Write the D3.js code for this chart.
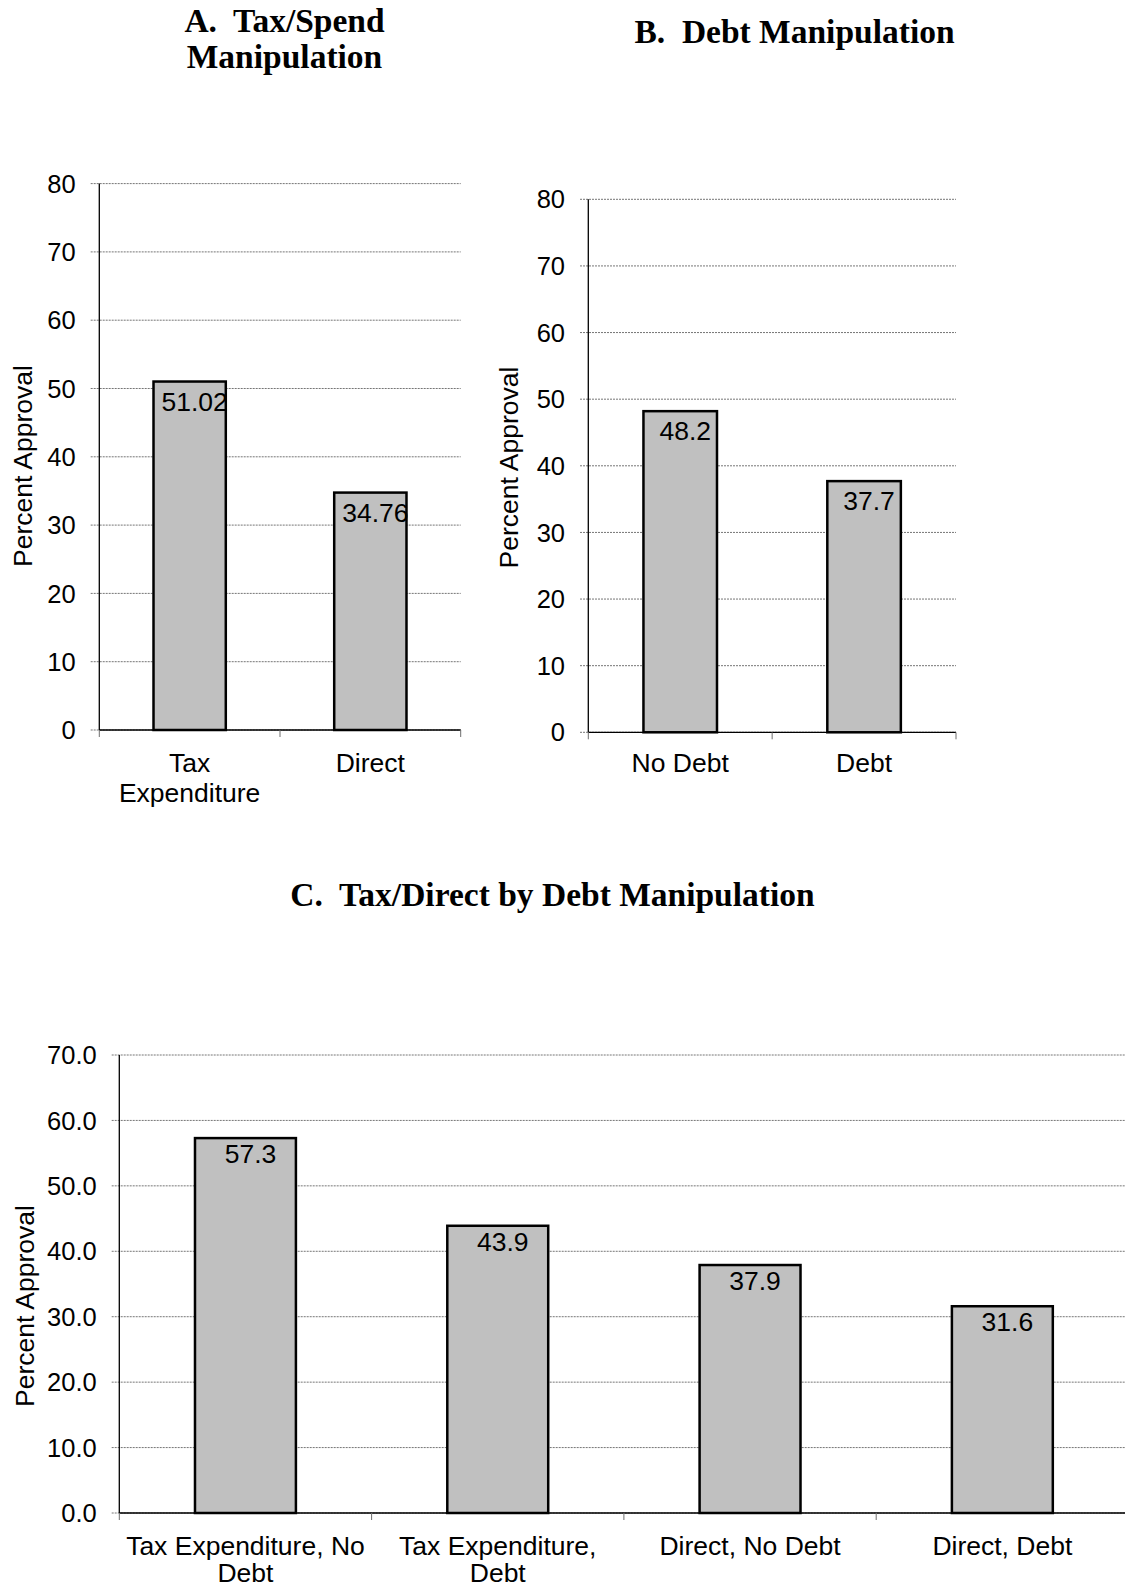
<!DOCTYPE html>
<html>
<head>
<meta charset="utf-8">
<script src="https://cdn.jsdelivr.net/npm/d3@7"></script>
<style>
  html, body { margin: 0; padding: 0; background: #fff; }
  svg { display: block; }
  text { font-family: "Liberation Sans", Arial, sans-serif; fill: #000; }
  .title { font-family: "Liberation Serif", "Times New Roman", serif; font-weight: bold; font-size: 33.5px; white-space: pre; }
</style>
</head>
<body>
<svg id="chart" width="1125" height="1589"></svg>
<script>
// ---- data ----
const taxSpendCategories = [["Tax", "Expenditure"], ["Direct"]];
const taxSpendValues = [51.02, 34.76];

const debtCategories = [["No Debt"], ["Debt"]];
const debtValues = [48.2, 37.7];

const comboCategories = [["Tax Expenditure, No", "Debt"], ["Tax Expenditure,", "Debt"], ["Direct, No Debt"], ["Direct, Debt"]];
const comboValues = [57.3, 43.9, 37.9, 31.6];

const ticksAB = [0, 10, 20, 30, 40, 50, 60, 70, 80];
const ticksC = [0, 10, 20, 30, 40, 50, 60, 70];

const titleA = ["A.  Tax/Spend", "Manipulation"];
const titleB = ["B.  Debt Manipulation"];
const titleC = ["C.  Tax/Direct by Debt Manipulation"];
const yTitle = "Percent Approval";

// ---- drawing ----
const svg = d3.select("#chart");
svg.append("rect").attr("width", 1125).attr("height", 1589).attr("fill", "#fff");

function drawTitle(lines, cx, baseline, lineGap) {
  const t = svg.append("text").attr("class", "title")
    .attr("text-anchor", "middle");
  lines.forEach((l, i) => {
    t.append("tspan").attr("x", cx).attr("y", baseline + i * lineGap).text(l);
  });
}

function drawPanel(p) {
  const n = p.values.length;
  const x = d3.scaleBand()
    .domain(d3.range(n))
    .range([p.x0, p.x1])
    .paddingInner(0.6)
    .paddingOuter(0.3);
  const y = d3.scaleLinear().domain([0, p.max]).range([p.y0, p.y1]);
  const g = svg.append("g");

  // horizontal gridlines (also form the left tick marks)
  g.selectAll("line.grid").data(p.ticks).join("line")
    .attr("class", "grid")
    .attr("x1", p.gridLeft).attr("x2", p.gridRight)
    .attr("y1", d => y(d)).attr("y2", d => y(d))
    .attr("stroke", "#767676").attr("stroke-width", 1)
    .attr("stroke-dasharray", "2,1");

  // y tick labels
  g.selectAll("text.ytick").data(p.ticks).join("text")
    .attr("class", "ytick")
    .attr("x", p.gridLeft - 15)
    .attr("y", d => y(d))
    .attr("dy", "0.36em")
    .attr("text-anchor", "end")
    .style("font-size", p.tickSize + "px")
    .text(p.tickFormat);

  // bars
  g.selectAll("rect.bar").data(p.values).join("rect")
    .attr("class", "bar")
    .attr("x", (d, i) => x(i))
    .attr("y", d => y(d))
    .attr("width", x.bandwidth())
    .attr("height", d => y(0) - y(d))
    .attr("fill", "#c0c0c0")
    .attr("stroke", "#000")
    .attr("stroke-width", 2.5);

  // value labels inside the top of each bar
  g.selectAll("text.val").data(p.values).join("text")
    .attr("class", "val")
    .attr("x", (d, i) => x(i) + x.bandwidth() / 2 + 5)
    .attr("y", d => y(d) + p.labelOffset)
    .attr("text-anchor", "middle")
    .style("font-size", p.fontSize + "px")
    .text(d => String(d));

  // axes
  g.append("line")
    .attr("x1", p.x0).attr("x2", p.x0)
    .attr("y1", p.y0).attr("y2", p.y1)
    .attr("stroke", "#000").attr("stroke-width", 1.3);
  g.append("line")
    .attr("x1", p.x0).attr("x2", p.x1)
    .attr("y1", p.y0).attr("y2", p.y0)
    .attr("stroke", "#000").attr("stroke-width", 1.3);

  // category boundary ticks below the x axis
  g.selectAll("line.xtick").data(d3.range(n + 1)).join("line")
    .attr("class", "xtick")
    .attr("x1", i => p.x0 + i * x.step()).attr("x2", i => p.x0 + i * x.step())
    .attr("y1", p.y0).attr("y2", p.y0 + 7)
    .attr("stroke", "#6e6e6e").attr("stroke-width", 1);

  // category labels
  const cl = g.selectAll("text.cat").data(p.categories).join("text")
    .attr("class", "cat")
    .attr("text-anchor", "middle")
    .style("font-size", p.fontSize + "px");
  cl.each(function (lines, i) {
    const t = d3.select(this);
    lines.forEach((l, j) => {
      t.append("tspan")
        .attr("x", x(i) + x.bandwidth() / 2)
        .attr("y", p.catBaseline + j * p.catGap)
        .text(l);
    });
  });

  // y axis title
  g.append("text")
    .attr("transform", `translate(${p.yTitleX},${p.yTitleY}) rotate(-90)`)
    .attr("text-anchor", "middle")
    .style("font-size", p.yTitleSize + "px")
    .text(yTitle);
}

drawTitle(titleA, 284.5, 32, 36);
drawTitle(titleB, 794.5, 42.7, 36);
drawTitle(titleC, 552.5, 906, 36);

drawPanel({
  values: taxSpendValues, categories: taxSpendCategories, ticks: ticksAB, max: 80,
  tickFormat: d3.format("d"),
  x0: 99.3, x1: 460.7, y0: 730, y1: 183.6, gridLeft: 90.7, gridRight: 460.7,
  labelOffset: 29.5, catBaseline: 772, catGap: 30, yTitleX: 31.7, yTitleY: 466,
  fontSize: 26.5, tickSize: 25.5, yTitleSize: 26.5
});

drawPanel({
  values: debtValues, categories: debtCategories, ticks: ticksAB, max: 80,
  tickFormat: d3.format("d"),
  x0: 588.3, x1: 956, y0: 732.3, y1: 199.3, gridLeft: 580, gridRight: 956,
  labelOffset: 28.5, catBaseline: 771.7, catGap: 30, yTitleX: 518, yTitleY: 467.5,
  fontSize: 26.5, tickSize: 25.5, yTitleSize: 26.5
});

drawPanel({
  values: comboValues, categories: comboCategories, ticks: ticksC, max: 70,
  tickFormat: d3.format(".1f"),
  x0: 119.3, x1: 119.3 + 4 * 252.3, y0: 1513, y1: 1055, gridLeft: 111.7, gridRight: 1125,
  labelOffset: 25, catBaseline: 1555, catGap: 27, yTitleX: 34, yTitleY: 1306,
  fontSize: 26.5, tickSize: 25.5, yTitleSize: 26.5
});
</script>
</body>
</html>
